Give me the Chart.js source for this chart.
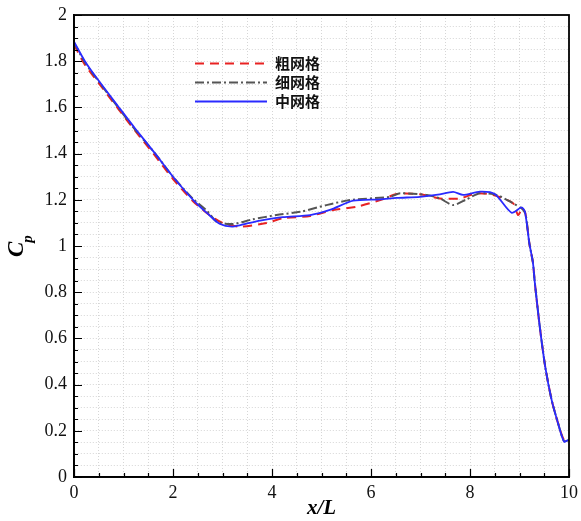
<!DOCTYPE html>
<html>
<head>
<meta charset="utf-8">
<script src="https://cdn.jsdelivr.net/npm/chart.js@4.4.1/dist/chart.umd.min.js"></script>
<style>
  html, body { margin: 0; padding: 0; background: #fff; }
  #wrap { width: 581px; height: 521px; }
</style>
</head>
<body>
<div id="wrap"><canvas id="cp-chart" width="581" height="521"></canvas></div>
<script>
(function () {
    'use strict';

    // coarse mesh
    const coarseX = [0, 0.22, 0.5, 0.89, 1.23, 1.64, 2.0, 2.4, 2.7, 3.0, 3.35, 3.89, 4.22, 4.77, 5.24, 5.71, 6.25, 6.52, 6.99, 7.39, 7.8, 8.13, 8.47, 8.87, 8.97, 9.06, 9.12, 9.2, 9.27, 9.31, 9.41, 9.52, 9.65, 9.78, 9.9, 10];
    const coarseCp = [1.872, 1.785, 1.705, 1.595, 1.50, 1.39, 1.29, 1.195, 1.14, 1.10, 1.084, 1.10, 1.12, 1.13, 1.156, 1.17, 1.203, 1.225, 1.224, 1.206, 1.206, 1.228, 1.221, 1.185, 1.134, 1.163, 1.14, 1.01, 0.93, 0.84, 0.65, 0.477, 0.333, 0.232, 0.16, 0.16];

    // fine mesh
    const fineX = [0, 0.22, 0.5, 0.89, 1.23, 1.64, 2.0, 2.4, 2.7, 2.88, 3.21, 3.6, 4.09, 4.57, 5.1, 5.58, 6.38, 6.59, 7.12, 7.39, 7.66, 7.93, 8.2, 8.54, 8.87, 9.04, 9.12, 9.2, 9.27, 9.31, 9.41, 9.52, 9.65, 9.78, 9.9, 10];
    const fineCp = [1.88, 1.795, 1.712, 1.60, 1.505, 1.40, 1.30, 1.205, 1.15, 1.105, 1.095, 1.115, 1.134, 1.148, 1.177, 1.199, 1.213, 1.228, 1.221, 1.206, 1.177, 1.202, 1.228, 1.221, 1.185, 1.163, 1.14, 1.01, 0.93, 0.84, 0.65, 0.477, 0.333, 0.232, 0.155, 0.16];

    // medium mesh
    const mediumX = [0, 0.22, 0.5, 0.89, 1.23, 1.64, 2.0, 2.41, 2.7, 2.95, 3.21, 3.5, 3.76, 4.22, 4.77, 5.17, 5.64, 6.18, 6.52, 6.99, 7.35, 7.66, 7.86, 8.2, 8.5, 8.84, 9.04, 9.11, 9.2, 9.27, 9.31, 9.41, 9.52, 9.65, 9.78, 9.9, 9.98];
    const mediumCp = [1.884, 1.80, 1.715, 1.605, 1.51, 1.40, 1.30, 1.199, 1.14, 1.095, 1.084, 1.098, 1.11, 1.125, 1.134, 1.156, 1.196, 1.202, 1.208, 1.213, 1.222, 1.234, 1.221, 1.235, 1.225, 1.144, 1.167, 1.148, 1.01, 0.93, 0.84, 0.65, 0.477, 0.333, 0.232, 0.153, 0.16];

    const xMajor = [0, 2, 4, 6, 8, 10];
    const yMajor = [0, 0.2, 0.4, 0.6, 0.8, 1, 1.2, 1.4, 1.6, 1.8, 2];

    const serif = '"Liberation Serif", "Times New Roman", serif';
    const cjk = '"Noto Sans CJK SC", sans-serif';

    const toPoints = (xs, ys) => xs.map((x, i) => ({ x, y: ys[i] }));
    const isMajor = (list, v) => list.some((m) => Math.abs(m - v) < 1e-6);

    // inward tick marks, closed frame, rotated C_p title and the legend box
    const decorations = {
        id: 'decorations',
        afterDraw(chart) {
            const { ctx, chartArea: a, scales } = chart;
            ctx.save();
            ctx.strokeStyle = '#000';
            ctx.lineWidth = 1.2;
            ctx.beginPath();
            scales.x.ticks.forEach((t) => {
                const px = Math.round(scales.x.getPixelForValue(t.value)) + 0.5;
                const len = isMajor(xMajor, t.value) ? 8 : 4;
                ctx.moveTo(px, a.bottom);
                ctx.lineTo(px, a.bottom - len);
            });
            scales.y.ticks.forEach((t) => {
                const py = Math.round(scales.y.getPixelForValue(t.value)) + 0.5;
                const len = isMajor(yMajor, t.value) ? 8 : 4;
                ctx.moveTo(a.left, py);
                ctx.lineTo(a.left + len, py);
            });
            ctx.stroke();

            ctx.lineWidth = 1.8;
            ctx.strokeRect(a.left, a.top, a.right - a.left, a.bottom - a.top);

            // y axis title, C with subscript p
            ctx.translate(23, 257);
            ctx.rotate(-Math.PI / 2);
            ctx.fillStyle = '#000';
            ctx.textBaseline = 'alphabetic';
            ctx.textAlign = 'left';
            ctx.font = 'bold italic 23px ' + serif;
            ctx.fillText('C', 0, 0);
            const cw = ctx.measureText('C').width;
            ctx.font = 'bold italic 15px ' + serif;
            ctx.fillText('p', cw - 1, 9);
            ctx.restore();

            // legend
            ctx.save();
            const x0 = 195, x1 = 267, rows = [63, 82, 101];
            chart.data.datasets.forEach((ds, i) => {
                const y = rows[i] + 0.5;
                ctx.strokeStyle = ds.borderColor;
                ctx.lineWidth = ds.borderWidth;
                ctx.setLineDash(ds.borderDash || []);
                ctx.beginPath();
                ctx.moveTo(x0, y);
                ctx.lineTo(x1, y);
                ctx.stroke();
                ctx.setLineDash([]);
                ctx.fillStyle = '#111';
                ctx.font = 'bold 15px ' + cjk;
                ctx.textBaseline = 'middle';
                ctx.fillText(ds.label, 275, y);
            });
            ctx.restore();
        },
    };

    const line = (label, xs, ys, color, dash, width, order) => ({
        label,
        data: toPoints(xs, ys),
        borderColor: color,
        borderDash: dash,
        borderWidth: width,
        pointRadius: 0,
        fill: false,
        tension: 0.25,
        order,
    });

    new Chart(document.getElementById('cp-chart'), {
        type: 'line',
        data: {
            datasets: [
                line('粗网格', coarseX, coarseCp, '#e82222', [9, 6], 2, 2),
                line('细网格', fineX, fineCp, '#555555', [9, 3, 2, 3], 2, 1),
                line('中网格', mediumX, mediumCp, '#2a2aff', [], 1.8, 0),
            ],
        },
        options: {
            responsive: false,
            animation: false,
            events: [],
            layout: { padding: { top: 15, right: 12, left: 0, bottom: 0 } },
            plugins: {
                legend: { display: false },
                tooltip: { enabled: false },
            },
            scales: {
                x: {
                    type: 'linear',
                    min: 0,
                    max: 10,
                    afterFit: (s) => {
                        s.height = 44;
                        s.paddingLeft = 0;
                        s.paddingRight = 0;
                    },
                    ticks: {
                        stepSize: 0.5,
                        autoSkip: false,
                        maxRotation: 0,
                        padding: 5,
                        color: '#111',
                        font: { family: serif, size: 18 },
                        callback: (v) => (isMajor(xMajor, v) ? String(v) : ''),
                    },
                    grid: { color: '#d6d6d6', lineWidth: 1, drawTicks: false },
                    border: { color: '#000', width: 1.8, dash: [1, 2] },
                    title: {
                        display: true,
                        text: 'x/L',
                        color: '#000',
                        padding: { top: 1, bottom: 0 },
                        font: { family: serif, size: 21, weight: 'bold', style: 'italic' },
                    },
                },
                y: {
                    min: 0,
                    max: 2,
                    afterFit: (s) => {
                        s.width = 74;
                        s.paddingTop = 0;
                        s.paddingBottom = 0;
                    },
                    ticks: {
                        stepSize: 0.05,
                        autoSkip: false,
                        padding: 7,
                        color: '#111',
                        font: { family: serif, size: 18 },
                        callback: (v) => (isMajor(yMajor, v) ? String(Math.round(v * 10) / 10) : ''),
                    },
                    grid: { color: '#d6d6d6', lineWidth: 1, drawTicks: false },
                    border: { color: '#000', width: 1.8, dash: [1, 2] },
                },
            },
        },
        plugins: [decorations],
    });
})();
</script>
</body>
</html>
